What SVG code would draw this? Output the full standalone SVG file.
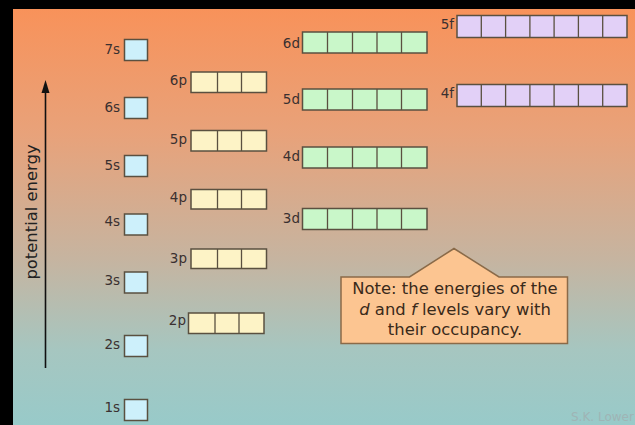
<svg xmlns="http://www.w3.org/2000/svg" width="635" height="425" viewBox="0 0 635 425">
<defs>
<linearGradient id="bg" x1="0" y1="0" x2="0" y2="1">
<stop offset="0" stop-color="#f8925a"/>
<stop offset="0.3" stop-color="#e8a27a"/>
<stop offset="0.6" stop-color="#c6b4a0"/>
<stop offset="0.82" stop-color="#a6c6c0"/>
<stop offset="1" stop-color="#98cac9"/>
</linearGradient>
</defs>
<style>
.lbl{font-family:"DejaVu Sans","Verdana",sans-serif;font-size:13.5px;fill:#3a3030;text-anchor:end;dominant-baseline:central}
.box{stroke:#5a5040;stroke-width:1.5}
.s{fill:#cdf0fb}
.p{fill:#fdf3c6}
.d{fill:#c9f7c9}
.f{fill:#e2d0f7}
.div{stroke:#5a5040;stroke-width:1.3}
.note{font-family:"DejaVu Sans","Verdana",sans-serif;font-size:16.4px;fill:#3a2a1a;text-anchor:middle}
</style>
<rect x="0" y="0" width="635" height="425" fill="#000"/>
<rect x="13" y="9" width="622" height="416" fill="url(#bg)"/>

<g id="axis">
<line x1="45.5" y1="368" x2="45.5" y2="90" stroke="#111" stroke-width="1.6"/>
<path d="M45.5,80 L49.5,93 L41.5,93 Z" fill="#111"/>
<text x="0" y="0" transform="translate(37,212) rotate(-90)" font-family="DejaVu Sans, Verdana, sans-serif" font-size="16.4" fill="#222" text-anchor="middle">potential energy</text>
</g>

<g id="s-orbitals">
<g id="s7"><text class="lbl" x="120" y="49">7s</text><rect class="box s" x="124.5" y="39.5" width="23" height="21"/></g>
<g id="s6"><text class="lbl" x="120" y="107">6s</text><rect class="box s" x="124.5" y="97.5" width="23" height="21"/></g>
<g id="s5"><text class="lbl" x="120" y="165">5s</text><rect class="box s" x="124.5" y="155.5" width="23" height="21"/></g>
<g id="s4"><text class="lbl" x="120" y="221">4s</text><rect class="box s" x="124.5" y="214" width="23" height="21"/></g>
<g id="s3"><text class="lbl" x="120" y="280">3s</text><rect class="box s" x="124.5" y="272" width="23" height="21"/></g>
<g id="s2"><text class="lbl" x="120" y="344">2s</text><rect class="box s" x="124.5" y="335.5" width="23" height="21"/></g>
<g id="s1"><text class="lbl" x="120" y="407">1s</text><rect class="box s" x="124.5" y="399.5" width="23" height="21"/></g>
</g>

<g id="p-orbitals">
<g id="p6"><text class="lbl" x="187" y="80">6p</text><rect class="box p" x="191" y="72" width="75.5" height="20.5"/><line class="div" x1="217.5" y1="72" x2="217.5" y2="92.5"/><line class="div" x1="241.5" y1="72" x2="241.5" y2="92.5"/></g>
<g id="p5"><text class="lbl" x="187" y="138.5">5p</text><rect class="box p" x="191" y="130.5" width="75.5" height="20.5"/><line class="div" x1="217.5" y1="130.5" x2="217.5" y2="151"/><line class="div" x1="241.5" y1="130.5" x2="241.5" y2="151"/></g>
<g id="p4"><text class="lbl" x="187" y="197">4p</text><rect class="box p" x="191" y="189.5" width="75.5" height="19.5"/><line class="div" x1="217.5" y1="189.5" x2="217.5" y2="209"/><line class="div" x1="241.5" y1="189.5" x2="241.5" y2="209"/></g>
<g id="p3"><text class="lbl" x="187" y="257.5">3p</text><rect class="box p" x="191" y="249" width="75.5" height="19.5"/><line class="div" x1="217.5" y1="249" x2="217.5" y2="268.5"/><line class="div" x1="241.5" y1="249" x2="241.5" y2="268.5"/></g>
<g id="p2"><text class="lbl" x="186" y="320">2p</text><rect class="box p" x="188.5" y="313" width="75.5" height="20.5"/><line class="div" x1="215" y1="313" x2="215" y2="333.5"/><line class="div" x1="239" y1="313" x2="239" y2="333.5"/></g>
</g>

<g id="d-orbitals">
<g id="d6"><text class="lbl" x="300" y="42.5">6d</text><rect class="box d" x="302.5" y="32" width="124.5" height="21"/><path class="div" d="M327.5,32V53M352.5,32V53M377,32V53M401.5,32V53"/></g>
<g id="d5"><text class="lbl" x="300" y="99">5d</text><rect class="box d" x="302.5" y="89" width="124.5" height="21"/><path class="div" d="M327.5,89V110M352.5,89V110M377,89V110M401.5,89V110"/></g>
<g id="d4"><text class="lbl" x="300" y="155.5">4d</text><rect class="box d" x="302.5" y="147" width="124.5" height="21"/><path class="div" d="M327.5,147V168M352.5,147V168M377,147V168M401.5,147V168"/></g>
<g id="d3"><text class="lbl" x="300" y="218">3d</text><rect class="box d" x="302.5" y="208.5" width="124.5" height="21"/><path class="div" d="M327.5,208.5V229.5M352.5,208.5V229.5M377,208.5V229.5M401.5,208.5V229.5"/></g>
</g>

<g id="f-orbitals">
<g id="f5"><text class="lbl" x="454" y="24">5f</text><rect class="box f" x="457" y="15.5" width="170" height="22"/><path class="div" d="M481.3,15.5V37.5M505.6,15.5V37.5M529.9,15.5V37.5M554.1,15.5V37.5M578.4,15.5V37.5M602.7,15.5V37.5"/></g>
<g id="f4"><text class="lbl" x="454" y="93">4f</text><rect class="box f" x="457" y="84.5" width="170" height="22"/><path class="div" d="M481.3,84.5V106.5M505.6,84.5V106.5M529.9,84.5V106.5M554.1,84.5V106.5M578.4,84.5V106.5M602.7,84.5V106.5"/></g>
</g>

<g id="note">
<path d="M341,277 H409.5 L454,248.5 L499,277 H567.5 V343.5 H341 Z" fill="#fcc591" stroke="#8a6a48" stroke-width="1.5"/>
<text class="note" x="455" y="294">Note: the energies of the</text>
<text class="note" x="455" y="314.5"><tspan font-style="italic">d</tspan> and <tspan font-style="italic">f</tspan> levels vary with</text>
<text class="note" x="455" y="334.5">their occupancy.</text>
</g>

<text x="571" y="421" font-family="DejaVu Sans, Verdana, sans-serif" font-size="12" fill="#9fb4b5">S.K. Lower</text>
</svg>
